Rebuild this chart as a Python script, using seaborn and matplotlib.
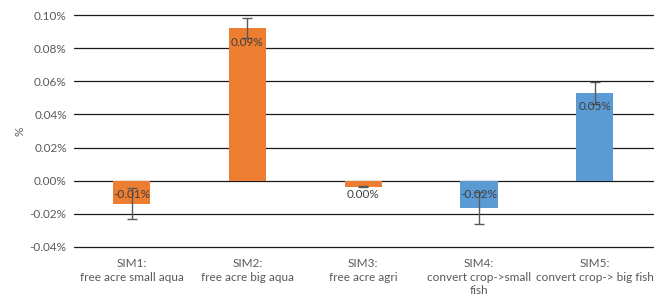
import pandas as pd
import seaborn as sns
import matplotlib.pyplot as plt

categories = [
    "SIM1:\nfree acre small aqua",
    "SIM2:\nfree acre big aqua",
    "SIM3:\nfree acre agri",
    "SIM4:\nconvert crop->small\nfish",
    "SIM5:\nconvert crop-> big fish",
]
values = [-0.0139, 0.0922, -0.0036, -0.0163, 0.0530]
errors = [0.0094, 0.0060, 0.0004, 0.0096, 0.0066]
labels = ["-0.01%", "0.09%", "0.00%", "-0.02%", "0.05%"]
colors = ["#ED7D31", "#ED7D31", "#ED7D31", "#5B9BD5", "#5B9BD5"]

sns.set_theme(style="white")
plt.rcParams["font.family"] = ["Lato", "DejaVu Sans"]

df = pd.DataFrame({"cat": categories, "val": values})

fig, ax = plt.subplots(figsize=(6.64, 2.96), dpi=100)
fig.subplots_adjust(left=0.111, right=0.983, top=0.949, bottom=0.166)

sns.barplot(data=df, x="cat", y="val", hue="cat", palette=colors, saturation=1,
            width=0.32, linewidth=0, legend=False, ax=ax, zorder=3)

ax.errorbar(range(len(values)), values, yerr=errors, fmt="none",
            ecolor="#595959", elinewidth=1, capsize=3.5, capthick=1, zorder=4)

for i, (v, lab) in enumerate(zip(values, labels)):
    anchor = v if v > 0 else 0
    ax.annotate(lab, (i, anchor), xytext=(0, -14 * 0.72), textcoords="offset points",
                ha="center", va="center", fontsize=8.5, color="#404040", zorder=5)

ax.set_ylim(-0.04, 0.10)
ax.set_xlim(-0.5, 4.5)
ticks = [-0.04, -0.02, 0.0, 0.02, 0.04, 0.06, 0.08, 0.10]
ax.set_yticks(ticks)
ax.set_yticklabels([f"{t:.2f}%" for t in ticks])
ax.yaxis.grid(True, color="#1a1a1a", linewidth=0.9, zorder=0)
for gl in ax.get_ygridlines():
    gl.set_clip_on(False)
ax.set_axisbelow(True)
for s in ax.spines.values():
    s.set_visible(False)
ax.tick_params(axis="y", length=0, labelsize=8.5, colors="#595959", pad=5)
ax.tick_params(axis="x", length=0, labelsize=8.5, colors="#595959", pad=8)
for t in ax.get_xticklabels():
    t.set_linespacing(1.3)
ax.set_xlabel("")
ax.set_ylabel("%", fontsize=8.5, color="#595959", labelpad=3)

fig.savefig("out.png", dpi=100)
